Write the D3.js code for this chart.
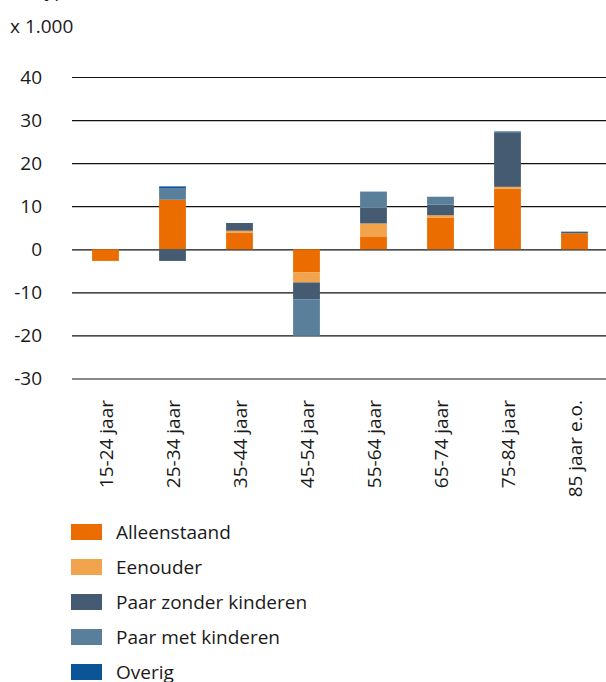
<!DOCTYPE html>
<html>
<head>
<meta charset="utf-8">
<script src="https://cdn.jsdelivr.net/npm/d3@7"></script>
<style>
  body { margin: 0; background: #fff; }
  svg { display: block; }
  text { font-family: "Open Sans", sans-serif; fill: #1a1a1a; }
</style>
</head>
<body>
<svg id="chart" width="606" height="682"></svg>
<script>
// categories + series (x 1.000 huishoudens)
const ageGroups = ["15-24 jaar", "25-34 jaar", "35-44 jaar", "45-54 jaar", "55-64 jaar", "65-74 jaar", "75-84 jaar", "85 jaar e.o."];
const seriesNames = ["Alleenstaand", "Eenouder", "Paar zonder kinderen", "Paar met kinderen", "Overig"];
const seriesColors = ["#eb6d00", "#f2a44c", "#455b71", "#5a7f9a", "#0b5496"];

const alleenstaand     = [-2.7, 11.5, 3.9, -5.4, 3.0, 7.4, 14.1, 3.7];
const eenouder         = [0.0, 0.0, 0.4, -2.3, 3.0, 0.5, 0.4, 0.0];
const paarZonder       = [0.0, -2.7, 1.8, -3.9, 3.7, 2.5, 12.5, 0.4];
const paarMet          = [0.0, 2.6, 0.0, -8.5, 3.7, 1.8, 0.4, 0.0];
const overig           = [0.0, 0.5, 0.0, 0.0, 0.0, 0.0, 0.0, 0.0];

const yTicks = [40, 30, 20, 10, 0, -10, -20, -30];

const table = ageGroups.map((g, i) => ({
    group: g,
    "Alleenstaand": alleenstaand[i],
    "Eenouder": eenouder[i],
    "Paar zonder kinderen": paarZonder[i],
    "Paar met kinderen": paarMet[i],
    "Overig": overig[i]
}));

const svg = d3.select("#chart");
const FS = 19;

const x = d3.scaleBand().domain(ageGroups).range([72, 608]).paddingInner(0.6).paddingOuter(0.3);
const y = d3.scaleLinear().domain([-30, 40]).range([378.5, 77]);

// gridlines + tick labels
const yAxis = svg.append("g").attr("transform", "translate(72,0)")
    .call(d3.axisLeft(y).tickValues(yTicks).tickSize(-534).tickPadding(30).tickFormat(d => String(d)));
yAxis.select(".domain").remove();
yAxis.selectAll(".tick line").attr("stroke", "#111").attr("stroke-width", 1.2);
yAxis.selectAll(".tick text").attr("font-size", FS).attr("fill", "#1a1a1a").style("font-family", "'Open Sans', sans-serif");

// stacked bars, positive and negative separately
const stack = d3.stack().keys(seriesNames).offset(d3.stackOffsetDiverging);
const layers = stack(table);

svg.append("g").selectAll("g")
  .data(layers)
  .join("g")
    .attr("fill", (d, i) => seriesColors[i])
  .selectAll("rect")
  .data(d => d)
  .join("rect")
    .attr("x", d => x(d.data.group))
    .attr("width", x.bandwidth())
    .attr("y", d => y(Math.max(d[0], d[1])))
    .attr("height", d => Math.abs(y(d[0]) - y(d[1])));

// x labels, rotated
svg.append("g").selectAll("text")
  .data(ageGroups)
  .join("text")
    .attr("transform", d => `translate(${x(d) + x.bandwidth() / 2 + 7},400) rotate(-90)`)
    .attr("text-anchor", "end")
    .attr("font-size", FS)
    .text(d => d);

// unit label (title above is cut off at the top edge)
svg.append("text").attr("x", 38).attr("y", -3).attr("font-size", FS).text("type");
svg.append("text").attr("x", 10).attr("y", 33).attr("font-size", FS).text("x 1.000");

// legend
const legend = svg.append("g").selectAll("g")
  .data(seriesNames)
  .join("g")
    .attr("transform", (d, i) => `translate(71,${524 + i * 35})`);
legend.append("rect").attr("width", 31).attr("height", 16).attr("fill", (d, i) => seriesColors[i]);
legend.append("text").attr("x", 45).attr("y", 15).attr("font-size", FS).text(d => d);
</script>
</body>
</html>
